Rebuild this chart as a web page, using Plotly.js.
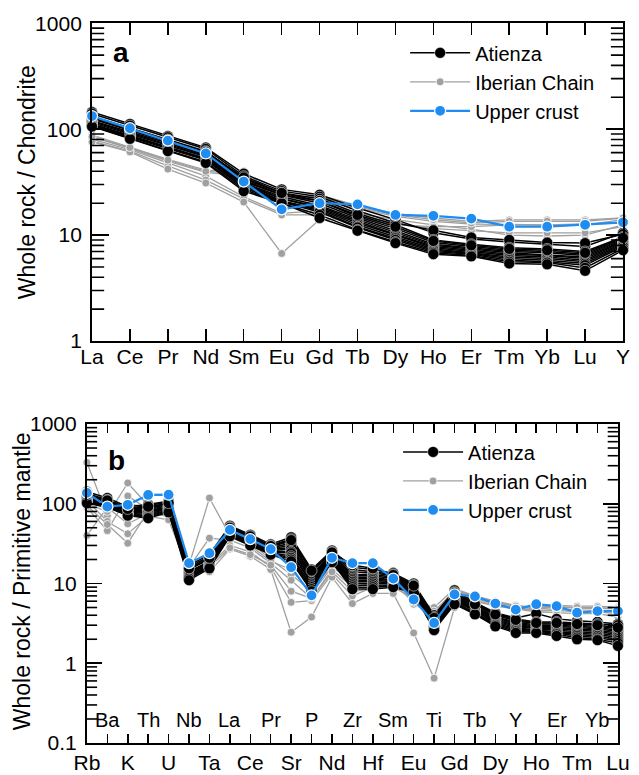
<!DOCTYPE html>
<html>
<head>
<meta charset="utf-8">
<script src="https://cdn.plot.ly/plotly-3.0.1.min.js"></script>
<style>html,body{margin:0;padding:0;background:#fff;}#chart{width:639px;height:775px;}</style>
</head>
<body>
<div id="chart"></div>
<script>
// ---------- Panel a: REE / chondrite ----------
const reeLabels = ['La','Ce','Pr','Nd','Sm','Eu','Gd','Tb','Dy','Ho','Er','Tm','Yb','Lu','Y'];

const atienzaREE = [
  [145,112,86,67,38,27,24,18,14,10.5,9.2,8.6,8.2,7.8,10.5],
  [140,108,84,65,36,26,23,17,13,11.1,9.5,9.0,8.5,8.4,10.2],
  [132,103,80,62,34,25,22,16,12.5,9.0,8.2,7.6,7.4,7.0,9.6],
  [128,100,78,60,33,24,21,15,11.5,8.5,7.8,7.2,7.0,6.6,9.2],
  [125,98,76,59,32,24,20,14.5,11,8.2,7.6,7.0,6.8,6.4,9.0],
  [120,95,74,57,31,23,19,14,10.5,8.0,7.4,6.8,6.5,6.2,8.8],
  [118,92,72,56,31,22,18.5,13.5,10.2,7.8,7.2,6.6,6.4,6.0,8.6],
  [115,90,70,55,30,22,18,13,10,7.6,7.0,6.4,6.2,5.8,8.4],
  [112,88,68,53,30,21,17.5,12.5,9.6,7.4,6.8,6.2,6.0,5.6,8.2],
  [110,86,67,52,29,21,17,12,9.3,7.2,6.7,6.0,5.8,5.4,8.0],
  [108,84,65,51,28,20.5,16.5,11.8,9.0,7.0,6.6,5.8,5.6,5.2,7.8],
  [107,82,63,49,27,20,15.5,11.2,8.6,6.8,6.4,5.6,5.5,4.9,7.5],
  [106,81,62,48,26,20,14.5,11,8.4,6.6,6.3,5.4,5.3,4.6,7.2],
  [130,100,78,61,35,25,21,15.5,12,8.8,8.0,7.4,7.2,6.8,9.4]
];

const iberianREE = [
  [88,68,52,41,40,22,24,19,16,14.5,13.5,13.9,13.9,13.9,14.5],
  [84,66,50,39,36,21,22,18,15,13.5,12.7,12.5,12.5,12.5,14],
  [80,64,48,36,23,16,17,16,14,12.5,11.4,10,9.8,10,12.5],
  [77,62,45,33,22,15.5,15.5,15,13,11.5,11,10.5,10.5,10.5,12],
  [76,61,42,31,20.5,6.7,14,14.5,12.5,12,12,12.5,12.5,12.8,13],
  [85,67,51,40,38,22,23,18.5,15.5,14,13,13.5,13.5,13.5,14.5]
];

const upperCrustREE = [133,102,78,59,32,17.5,20,19.5,15.5,15.2,14.3,12,12,12.5,13.2];

// ---------- Panel b: multi-element / primitive mantle ----------
const spiderLabels = ['Rb','Ba','K','Th','U','Nb','Ta','La','Ce','Pr','Sr','P','Nd','Zr','Hf','Sm','Eu','Ti','Gd','Tb','Dy','Y','Ho','Er','Tm','Yb','Lu'];

const atienzaSpider = [
  [142,118,92,98,108,17,23,53,41,31,38,15,26,16,15,13.5,10,4.0,8.2,5.8,4.3,3.7,4.2,3.6,3.4,3.3,3.1],
  [135,112,88,95,105,16,22,51,40,30,36,14,25,15,14,13,9.6,3.8,7.8,5.6,4.2,3.6,3.3,3.3,3.2,3.1,3.0],
  [128,108,85,90,100,15,21,49,38,29,34,13,24,14,13.5,12.5,9.2,3.6,7.5,5.4,4.0,3.4,3.1,3.1,3.0,2.9,2.7],
  [125,105,82,88,98,15,20,48,37,28,32,12.5,23.5,13,13,12,9.0,3.5,7.2,5.2,3.8,3.3,3.0,3.0,2.9,2.8,2.6],
  [120,102,80,85,95,14,19,47,36,27.5,30,12,23,12.5,12.5,11.5,8.8,3.4,7.0,5.0,3.7,3.2,2.9,2.9,2.8,2.7,2.5],
  [118,100,78,82,92,14,18.5,46,35,27,28,11.5,22,12,12,11,8.6,3.3,6.8,4.9,3.6,3.1,2.8,2.8,2.7,2.6,2.4],
  [115,98,77,80,90,13.5,18,45,34,26,27,11,21.5,11.5,11.5,10.8,8.4,3.2,6.6,4.8,3.5,3.0,2.75,2.7,2.6,2.5,2.3],
  [112,96,75,78,88,13,17.5,44,33,25.5,25,10.5,21,11,11,10.5,8.2,3.1,6.4,4.7,3.4,2.9,2.7,2.6,2.5,2.4,2.2],
  [110,95,74,75,86,12.5,17,43,32,25,24,10,20.5,10.5,10.5,10.2,8.0,3.0,6.2,4.6,3.3,2.8,2.6,2.5,2.4,2.3,2.1],
  [108,94,73,72,84,12,16.5,42,31.5,24.5,22,9.5,20,10,10,10,7.9,2.9,6.0,4.5,3.2,2.7,2.55,2.45,2.3,2.2,2.0],
  [106,92,72,70,82,12,16,41,31,24,21,9,19.5,9.5,9.5,9.6,7.8,2.8,5.8,4.3,3.1,2.6,2.5,2.4,2.2,2.1,1.9],
  [104,91,72,68,80,11.5,16,40,30.5,23.5,20,8.5,19,9,9,9.3,7.7,2.7,5.6,4.2,3.0,2.5,2.45,2.3,2.1,2.0,1.8],
  [102,90,71,66,78,11,15.5,39,30,23,19,8,18.5,8.5,8.5,9,7.6,2.6,5.5,4.1,2.9,2.4,2.4,2.2,2.0,1.95,1.65],
  [130,110,86,92,102,15.5,21,50,39,29.5,35,14.5,24.5,17,15.5,12.8,9.4,3.7,7.6,5.5,4.1,3.5,3.2,3.2,3.1,3.0,2.8]
];

const iberianSpider = [
  [330,71,182,95,90,17,118,40,33,20,13,8,17,12,11,14.5,6.1,5,8.6,7,6,5.3,5,5.3,5.2,5.2,5.0],
  [90,46,125,85,80,16,37,35,28,18,11,6.5,15,9,10,12,5.5,4.5,8,6.8,5.8,5.1,4.8,5,4.9,4.9,4.8],
  [40,90,56,75,70,15,17,30,25,16,5.8,6.1,13,7,9,9,6.5,3.6,7,6.5,5.5,5,4.6,4.7,4.6,4.6,4.4],
  [110,60,42,70,63,14,14,27,22,15,2.45,3.8,12,5.6,7.5,7.5,2.4,0.65,5,6,5.2,4.8,4.4,4.3,4.2,4.2,3.8],
  [100,80,100,90,85,18,20,38,30,19,15,7.5,16,11,10.5,13,7,4.2,8.3,6.9,5.9,5.2,4.9,5.1,5.0,5.0,4.9],
  [95,55,32,80,75,13,16,28,23,17,8,6.5,14,8,8.5,10,5.8,3.5,6.6,6.2,5.3,4.9,4.5,4.6,4.4,4.4,4.2]
];

const upperCrustSpider = [137,92,97,129,130,18,24,47,36,27,16,7.1,21,18,18,11.5,6.3,3.2,7.3,6.9,5.6,4.7,5.5,5.2,4.3,4.5,4.5];

// ---------- styles ----------
const FONT = '"Liberation Sans", Arial, Helvetica, sans-serif';
const styles = {
  'Atienza':       {line:{color:'#000000', width:1.5}, marker:{color:'#000000', size:11, line:{color:'#ffffff', width:0.5}}, rank:1},
  'Iberian Chain': {line:{color:'#a0a0a0', width:1.3}, marker:{color:'#a0a0a0', size:8, line:{color:'#ffffff', width:0.8}}, rank:2},
  'Upper crust':   {line:{color:'#1e8cf0', width:2.2}, marker:{color:'#1e8cf0', size:11, line:{color:'#ffffff', width:1.2}}, rank:3}
};

const traces = [];
function addGroup(rows, name, labels, xa, ya, legendId) {
  const st = styles[name];
  const xs = labels.map((_, i) => i);
  rows.forEach((row, k) => {
    traces.push({
      type: 'scatter', mode: 'lines+markers',
      x: xs, y: row, xaxis: xa, yaxis: ya,
      name: name, legendgroup: legendId + name, legend: legendId,
      showlegend: k === 0, legendrank: st.rank,
      line: st.line, marker: st.marker, cliponaxis: false,
      hoverinfo: 'skip'
    });
  });
}
// panel a
addGroup(iberianREE, 'Iberian Chain', reeLabels, 'x', 'y', 'legend');
addGroup(atienzaREE, 'Atienza', reeLabels, 'x', 'y', 'legend');
addGroup([upperCrustREE], 'Upper crust', reeLabels, 'x', 'y', 'legend');
// panel b
addGroup(iberianSpider, 'Iberian Chain', spiderLabels, 'x2', 'y2', 'legend2');
addGroup(atienzaSpider, 'Atienza', spiderLabels, 'x2', 'y2', 'legend2');
addGroup([upperCrustSpider], 'Upper crust', spiderLabels, 'x2', 'y2', 'legend2');

// minor log tick marks (axis decoration): one short segment per 2..9 x 10^e on each vertical frame edge
function addMinorTicks(xa, ya, xmax, lo, hi, lenUnits) {
  for (let e = lo; e < hi; e++) {
    for (let m = 2; m <= 9; m++) {
      const v = m * Math.pow(10, e);
      [[0, lenUnits], [xmax - lenUnits, xmax]].forEach(([a, b]) => {
        traces.push({type: 'scatter', mode: 'lines', x: [a, b], y: [v, v], xaxis: xa, yaxis: ya,
          line: {color: '#000000', width: 1.6, simplify: false}, showlegend: false,
          hoverinfo: 'skip', cliponaxis: false});
      });
    }
  }
}
addMinorTicks('x', 'y', reeLabels.length - 1, 0, 3, 0.32);
addMinorTicks('x2', 'y2', spiderLabels.length - 1, -1, 3, 0.5);

const reeIdx = reeLabels.map((_, i) => i);
const spIdx = spiderLabels.map((_, i) => i);
const spBottomText = spiderLabels.map((s, i) => (i % 2 === 0 ? s : ''));

const axisCommon = {
  showline: true, linecolor: '#000', linewidth: 2, mirror: 'allticks',
  showgrid: false, zeroline: false, ticks: 'inside', tickcolor: '#000', tickwidth: 1.5,
  tickfont: {family: FONT, size: 21, color: '#000'}
};

const annotations = [
  {text: '<b>a</b>', x: 0.189, y: 0.932, xref: 'paper', yref: 'paper', showarrow: false,
   font: {family: FONT, size: 28, color: '#000'}, xanchor: 'center', yanchor: 'middle'},
  {text: '<b>b</b>', x: 0.183, y: 0.406, xref: 'paper', yref: 'paper', showarrow: false,
   font: {family: FONT, size: 28, color: '#000'}, xanchor: 'center', yanchor: 'middle'},
  {text: 'Whole rock / Chondrite', x: 27/639, y: 0.765, xref: 'paper', yref: 'paper', showarrow: false,
   textangle: -90, font: {family: FONT, size: 23, color: '#000'}, xanchor: 'center', yanchor: 'middle'},
  {text: 'Whole rock / Primitive mantle', x: 22/639, y: 0.250, xref: 'paper', yref: 'paper', showarrow: false,
   textangle: -90, font: {family: FONT, size: 23, color: '#000'}, xanchor: 'center', yanchor: 'middle'}
];
spiderLabels.forEach((s, i) => {
  if (i % 2 === 1) {
    annotations.push({text: s, x: i, xref: 'x2', y: 0.072, yref: 'y2 domain', showarrow: false,
      font: {family: FONT, size: 20, color: '#000'}, xanchor: 'center', yanchor: 'middle'});
  }
});

const legendCommon = {
  font: {family: FONT, size: 20, color: '#000'}, bgcolor: 'rgba(0,0,0,0)',
  xanchor: 'left', yanchor: 'top', itemwidth: 60, traceorder: 'normal', tracegroupgap: 0
};

const layout = {
  width: 639, height: 775,
  margin: {l: 0, r: 0, t: 0, b: 0},
  paper_bgcolor: '#fff', plot_bgcolor: '#fff',
  font: {family: FONT, color: '#000'},
  showlegend: true,
  xaxis: Object.assign({}, axisCommon, {
    type: 'linear', domain: [0.144, 0.975], anchor: 'y', range: [0, 14],
    tickmode: 'array', tickvals: reeIdx, ticktext: reeLabels, ticklen: 12, ticklabelstandoff: -4
  }),
  yaxis: Object.assign({}, axisCommon, {
    domain: [0.560, 0.970], anchor: 'x', type: 'log', range: [0, 3],
    tickmode: 'linear', tick0: 0, dtick: 1, exponentformat: 'none', ticklen: 17, ticklabelstandoff: 4
  }),
  xaxis2: Object.assign({}, axisCommon, {
    type: 'linear', domain: [0.136, 0.967], anchor: 'y2', range: [0, 26],
    tickmode: 'array', tickvals: spIdx, ticktext: spBottomText, ticklen: 9
  }),
  yaxis2: Object.assign({}, axisCommon, {
    domain: [0.0413, 0.4529], anchor: 'x2', type: 'log', range: [-1, 3],
    tickmode: 'linear', tick0: 0, dtick: 1, exponentformat: 'none', ticklen: 15, ticklabelstandoff: 4
  }),
  legend: Object.assign({}, legendCommon, {x: 0.634, y: 0.957}),
  legend2: Object.assign({}, legendCommon, {x: 0.623, y: 0.442}),
  annotations: annotations
};

Plotly.newPlot('chart', traces, layout, {staticPlot: true, displayModeBar: false});
</script>
</body>
</html>
